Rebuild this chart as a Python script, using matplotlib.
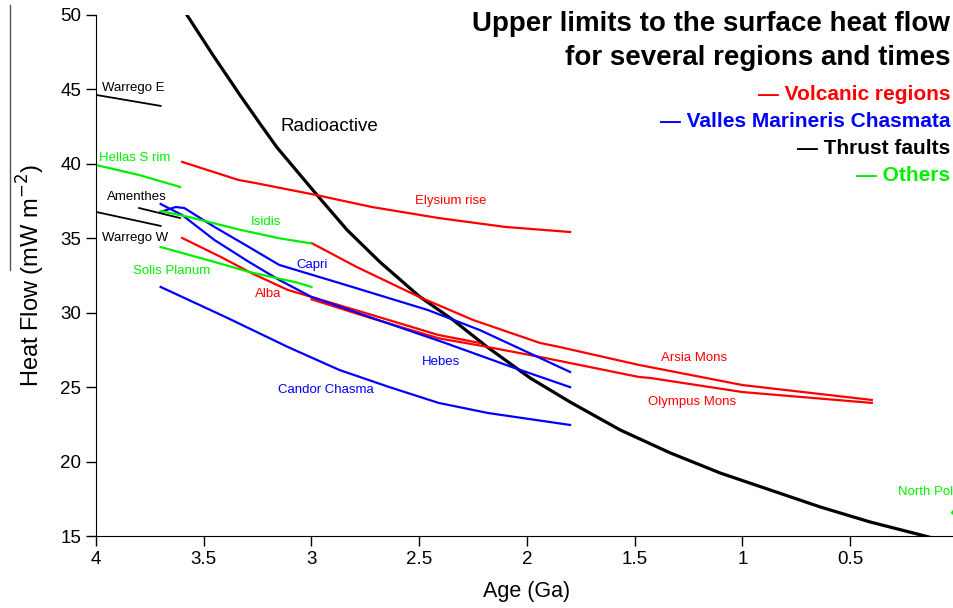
import numpy as np
import matplotlib
matplotlib.use('Agg')
import matplotlib.pyplot as plt
from matplotlib.lines import Line2D

plt.rcParams['font.family'] = ['Liberation Sans', 'DejaVu Sans']

# Radioactive heat flow curve
radio_age = [3.60, 3.578, 3.457, 3.331, 3.239, 3.160, 3.067, 2.974, 2.835, 2.682, 2.50,
             2.343, 2.185, 1.985, 1.800, 1.567, 1.335, 1.103, 0.871, 0.639, 0.407, 0.207, 0.10]
radio_hf = [50.5, 50.0, 47.3, 44.6, 42.7, 41.1, 39.5, 37.9, 35.56, 33.4, 31.1,
            29.51, 27.70, 25.61, 24.0, 22.12, 20.58, 19.23, 18.09, 16.95, 15.94, 15.20, 14.8]

# Volcanic regions (red)
elysium_age = [3.60, 3.34, 3.26, 2.98, 2.72, 2.41, 2.10, 1.80]
elysium_hf = [40.13, 38.92, 38.71, 37.91, 37.10, 36.36, 35.76, 35.42]
arsia_age = [3.00, 2.79, 2.50, 2.25, 1.94, 1.85, 1.48, 1.43, 1.00, 0.40]
arsia_hf = [34.68, 33.07, 31.06, 29.51, 27.97, 27.70, 26.49, 26.35, 25.14, 24.14]
alba_age = [3.60, 3.42, 3.28, 3.11, 3.00, 2.72, 2.41, 2.22]
alba_hf = [35.02, 33.74, 32.67, 31.53, 31.06, 29.85, 28.50, 27.97]
olympus_age = [3.00, 2.72, 2.41, 2.22, 1.94, 1.48, 1.43, 1.00, 0.40]
olympus_hf = [30.90, 29.62, 28.28, 27.80, 27.03, 25.68, 25.62, 24.67, 23.94]

# Valles Marineris Chasmata (blue)
capri_age = [3.70, 3.63, 3.59, 3.45, 3.29, 3.15, 2.84, 2.46, 2.22, 1.80]
capri_hf = [36.77, 37.10, 37.03, 35.76, 34.41, 33.21, 31.86, 30.18, 28.84, 26.02]
hebes_age = [3.70, 3.60, 3.45, 3.29, 3.15, 3.00, 2.69, 2.38, 2.07, 1.80]
hebes_hf = [37.30, 36.56, 34.88, 33.41, 32.20, 31.06, 29.51, 27.97, 26.35, 25.00]
candor_age = [3.70, 3.39, 3.11, 2.87, 2.64, 2.41, 2.18, 1.80]
candor_hf = [31.73, 29.65, 27.70, 26.15, 25.01, 23.94, 23.26, 22.46]

# Thrust faults (black)
warrego_e_age = [4.00, 3.70]
warrego_e_hf = [44.63, 43.89]
amenthes_age = [3.80, 3.61]
amenthes_hf = [37.03, 36.36]
warrego_w_age = [4.00, 3.70]
warrego_w_hf = [36.77, 35.83]

# Others (green)
hellas_age = [4.00, 3.80, 3.61]
hellas_hf = [39.92, 39.25, 38.45]
isidis_age = [3.70, 3.57, 3.34, 3.15, 3.00]
isidis_hf = [36.83, 36.43, 35.60, 35.00, 34.65]
solis_age = [3.70, 3.45, 3.29, 3.06, 3.00]
solis_hf = [34.41, 33.41, 32.74, 32.00, 31.73]
north_pole_age = [0.0]
north_pole_hf = [16.6]

RED = '#ff0000'
BLUE = '#0000ff'
GREEN = '#00ee00'

fig = plt.figure(figsize=(9.54, 6.08), dpi=100)
ax = fig.add_axes([0.1006, 0.1184, 0.9036, 0.857])

# Curves
ax.plot(radio_age, radio_hf, color='black', lw=2.3)
for a, h in [(elysium_age, elysium_hf), (arsia_age, arsia_hf),
             (alba_age, alba_hf), (olympus_age, olympus_hf)]:
    ax.plot(a, h, color=RED, lw=1.6)
for a, h in [(capri_age, capri_hf), (hebes_age, hebes_hf), (candor_age, candor_hf)]:
    ax.plot(a, h, color=BLUE, lw=1.6)
for a, h in [(warrego_e_age, warrego_e_hf), (amenthes_age, amenthes_hf),
             (warrego_w_age, warrego_w_hf)]:
    ax.plot(a, h, color='black', lw=1.3)
for a, h in [(hellas_age, hellas_hf), (isidis_age, isidis_hf), (solis_age, solis_hf)]:
    ax.plot(a, h, color=GREEN, lw=1.6)
ax.plot(north_pole_age, north_pole_hf, 'D', color=GREEN, ms=7)

# Curve labels
lab = dict(fontsize=9.5, ha='left', va='center')
ax.text(3.146, 42.5, 'Radioactive', fontsize=13.5, ha='left', va='center')
ax.text(3.97, 45.1, 'Warrego E', color='black', **lab)
ax.text(3.985, 40.4, 'Hellas S rim', color=GREEN, **lab)
ax.text(3.95, 37.8, 'Amenthes', color='black', **lab)
ax.text(3.97, 35.0, 'Warrego W', color='black', **lab)
ax.text(3.83, 32.8, 'Solis Planum', color=GREEN, **lab)
ax.text(3.28, 36.1, 'Isidis', color=GREEN, **lab)
ax.text(3.07, 33.2, 'Capri', color=BLUE, **lab)
ax.text(3.26, 31.25, 'Alba', color=RED, **lab)
ax.text(2.52, 37.5, 'Elysium rise', color=RED, **lab)
ax.text(2.49, 26.7, 'Hebes', color=BLUE, **lab)
ax.text(3.155, 24.8, 'Candor Chasma', color=BLUE, **lab)
ax.text(1.38, 26.95, 'Arsia Mons', color=RED, **lab)
ax.text(1.44, 24.0, 'Olympus Mons', color=RED, **lab)
ax.text(0.277, 17.95, 'North Pole', color=GREEN, clip_on=False, **lab)

# Axes
ax.set_xlim(4, 0)
ax.set_ylim(15, 50)
ax.set_xticks([4, 3.5, 3, 2.5, 2, 1.5, 1, 0.5])
ax.set_xticklabels(['4', '3.5', '3', '2.5', '2', '1.5', '1', '0.5'])
ax.set_yticks([15, 20, 25, 30, 35, 40, 45, 50])
ax.spines['top'].set_visible(False)
ax.spines['right'].set_visible(False)
ax.tick_params(direction='out', length=7, width=1, labelsize=13.5)
ax.set_xlabel('Age (Ga)', fontsize=15.5, labelpad=10)
ax.set_ylabel('Heat Flow (mW m$^{-2}$)', fontsize=17, labelpad=10)

# Title and legend as text, right-aligned
fig.text(0.996, 0.961, 'Upper limits to the surface heat flow', fontsize=20,
         fontweight='bold', ha='right', va='center')
fig.text(0.996, 0.904, 'for several regions and times', fontsize=20,
         fontweight='bold', ha='right', va='center')
legend_items = [('Volcanic regions', RED), ('Valles Marineris Chasmata', BLUE),
                ('Thrust faults', 'black'), ('Others', GREEN)]
for i, (name, col) in enumerate(legend_items):
    fig.text(0.996, 0.845 - i * 0.0448, '\u2014 ' + name, color=col, fontsize=15,
             fontweight='bold', ha='right', va='center')

# Stray line to the left of the y label
fig.add_artist(Line2D([10 / 954, 10 / 954], [1 - 5 / 608, 1 - 270 / 608],
                      color='#555555', lw=1, transform=fig.transFigure))

fig.savefig('out.png', dpi=100)
